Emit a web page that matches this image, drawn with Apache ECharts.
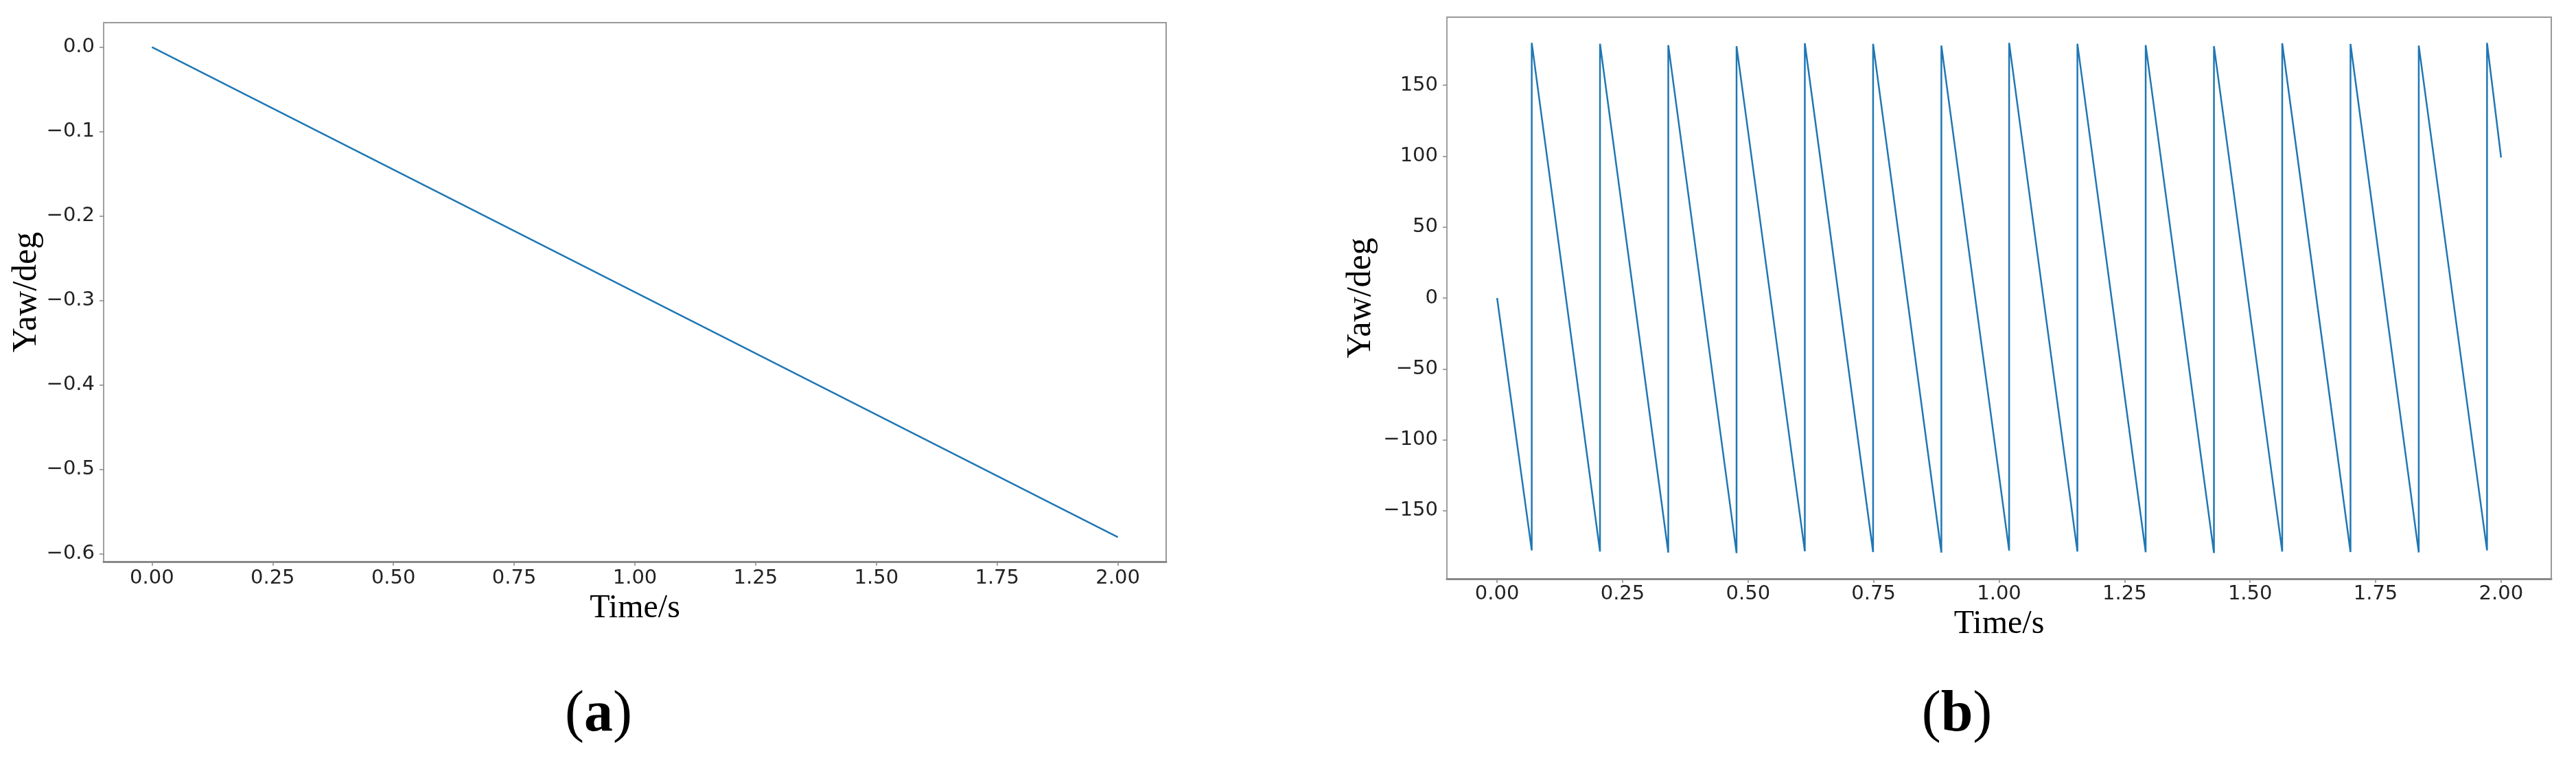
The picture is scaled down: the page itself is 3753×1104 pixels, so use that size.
<!DOCTYPE html>
<html>
<head>
<meta charset="utf-8">
<script src="https://cdn.jsdelivr.net/npm/echarts@6/dist/echarts.min.js"></script>
<style>
  html, body { margin: 0; padding: 0; background: #fff; }
  #chart { width: 3753px; height: 1104px; }
</style>
</head>
<body>
<div id="chart"></div>
<script>
// (a) yaw, straight drift
const aTime = [0, 2.0];
const aYaw = [0, -0.58];

// (b) yaw, wraps at +-180
const bStart = [0, 0];
const bJumpTime = [0.069, 0.205, 0.341, 0.477, 0.613, 0.749, 0.885, 1.020, 1.156, 1.292, 1.428, 1.564, 1.700, 1.836, 1.972];
const bTrough = [-178.0, -178.8, -179.5, -179.9, -178.6, -179.1, -179.5, -178.1, -178.8, -179.3, -179.8, -178.8, -179.1, -179.4, -178.0];
const bPeak = [179.9, 179.3, 178.3, 177.6, 179.6, 179.2, 178.0, 179.9, 179.3, 178.3, 177.6, 179.6, 179.1, 178.0, 179.9];
const bEnd = [2.0, 99];

// tick labels
const xTicks = [0, 0.25, 0.5, 0.75, 1.0, 1.25, 1.5, 1.75, 2.0];
const aYTicks = [0, -0.1, -0.2, -0.3, -0.4, -0.5, -0.6];
const bYTicks = [-150, -100, -50, 0, 50, 100, 150];

const aData = aTime.map((t, i) => [t, aYaw[i]]);
const bData = [bStart];
bJumpTime.forEach((t, i) => {
    bData.push([t, bTrough[i]]);
    bData.push([t, bPeak[i]]);
});
bData.push(bEnd);

const minus = v => (v < 0 ? '\u2212' : '');
const tickFont = { fontFamily: 'DejaVu Sans', color: '#222' };
const nameFont = { fontFamily: 'Liberation Serif', color: '#000' };

function xAxis(gridIndex, size, margin, nameGap) {
    return {
        type: 'value',
        gridIndex: gridIndex,
        min: -0.1,
        max: 2.1,
        name: 'Time/s',
        nameLocation: 'middle',
        nameGap: nameGap,
        nameTextStyle: Object.assign({ fontSize: 48 }, nameFont),
        splitLine: { show: false },
        axisLine: { show: true, onZero: false, lineStyle: { color: '#888', width: 3 } },
        axisTick: { show: true, customValues: xTicks, length: 6, lineStyle: { color: '#888', width: 1.5 } },
        axisLabel: Object.assign({
            customValues: xTicks,
            fontSize: size,
            margin: margin,
            formatter: v => v.toFixed(2)
        }, tickFont)
    };
}

function yAxis(gridIndex, min, max, ticks, size, nameGap, fmt) {
    return {
        type: 'value',
        gridIndex: gridIndex,
        min: min,
        max: max,
        name: 'Yaw/deg',
        nameLocation: 'middle',
        nameGap: nameGap,
        nameTextStyle: Object.assign({ fontSize: 50 }, nameFont),
        splitLine: { show: false },
        axisLine: { show: true, onZero: false, lineStyle: { color: '#a0a0a0', width: 2 } },
        axisTick: { show: true, customValues: ticks, length: 6, lineStyle: { color: '#888', width: 1.5 } },
        axisLabel: Object.assign({
            customValues: ticks,
            fontSize: size,
            margin: 13,
            formatter: fmt
        }, tickFont)
    };
}

const myChart = echarts.init(document.getElementById('chart'), null, { renderer: 'canvas' });
const option = {
    backgroundColor: '#fff',
    animation: false,
    grid: [
        { left: 151, top: 33, width: 1548, height: 785, show: true, borderColor: '#999', borderWidth: 2 },
        { left: 2108, top: 25, width: 1609, height: 818, show: true, borderColor: '#999', borderWidth: 2 }
    ],
    xAxis: [
        xAxis(0, 29, 10, 42),
        xAxis(1, 29, 8, 38)
    ],
    yAxis: [
        yAxis(0, -0.609, 0.029, aYTicks, 29, 84, v => minus(v) + Math.abs(v).toFixed(1)),
        yAxis(1, -198, 198, bYTicks, 29, 100, v => minus(v) + Math.abs(v).toFixed(0))
    ],
    series: [
        {
            type: 'line',
            xAxisIndex: 0,
            yAxisIndex: 0,
            data: aData,
            showSymbol: false,
            lineStyle: { color: '#1f77b4', width: 2.5 }
        },
        {
            type: 'line',
            xAxisIndex: 1,
            yAxisIndex: 1,
            data: bData,
            showSymbol: false,
            lineStyle: { color: '#1f77b4', width: 2.5 }
        }
    ],
    graphic: [
        {
            type: 'text',
            x: 872,
            y: 1042,
            style: {
                text: '({b|a})',
                fontFamily: 'Liberation Serif',
                fontSize: 84,
                fill: '#000',
                align: 'center',
                verticalAlign: 'middle',
                rich: { b: { fontFamily: 'Liberation Serif', fontSize: 84, fontWeight: 'bold' } }
            }
        },
        {
            type: 'text',
            x: 2851,
            y: 1042,
            style: {
                text: '({b|b})',
                fontFamily: 'Liberation Serif',
                fontSize: 84,
                fill: '#000',
                align: 'center',
                verticalAlign: 'middle',
                rich: { b: { fontFamily: 'Liberation Serif', fontSize: 84, fontWeight: 'bold' } }
            }
        }
    ]
};
myChart.setOption(option);
</script>
</body>
</html>
